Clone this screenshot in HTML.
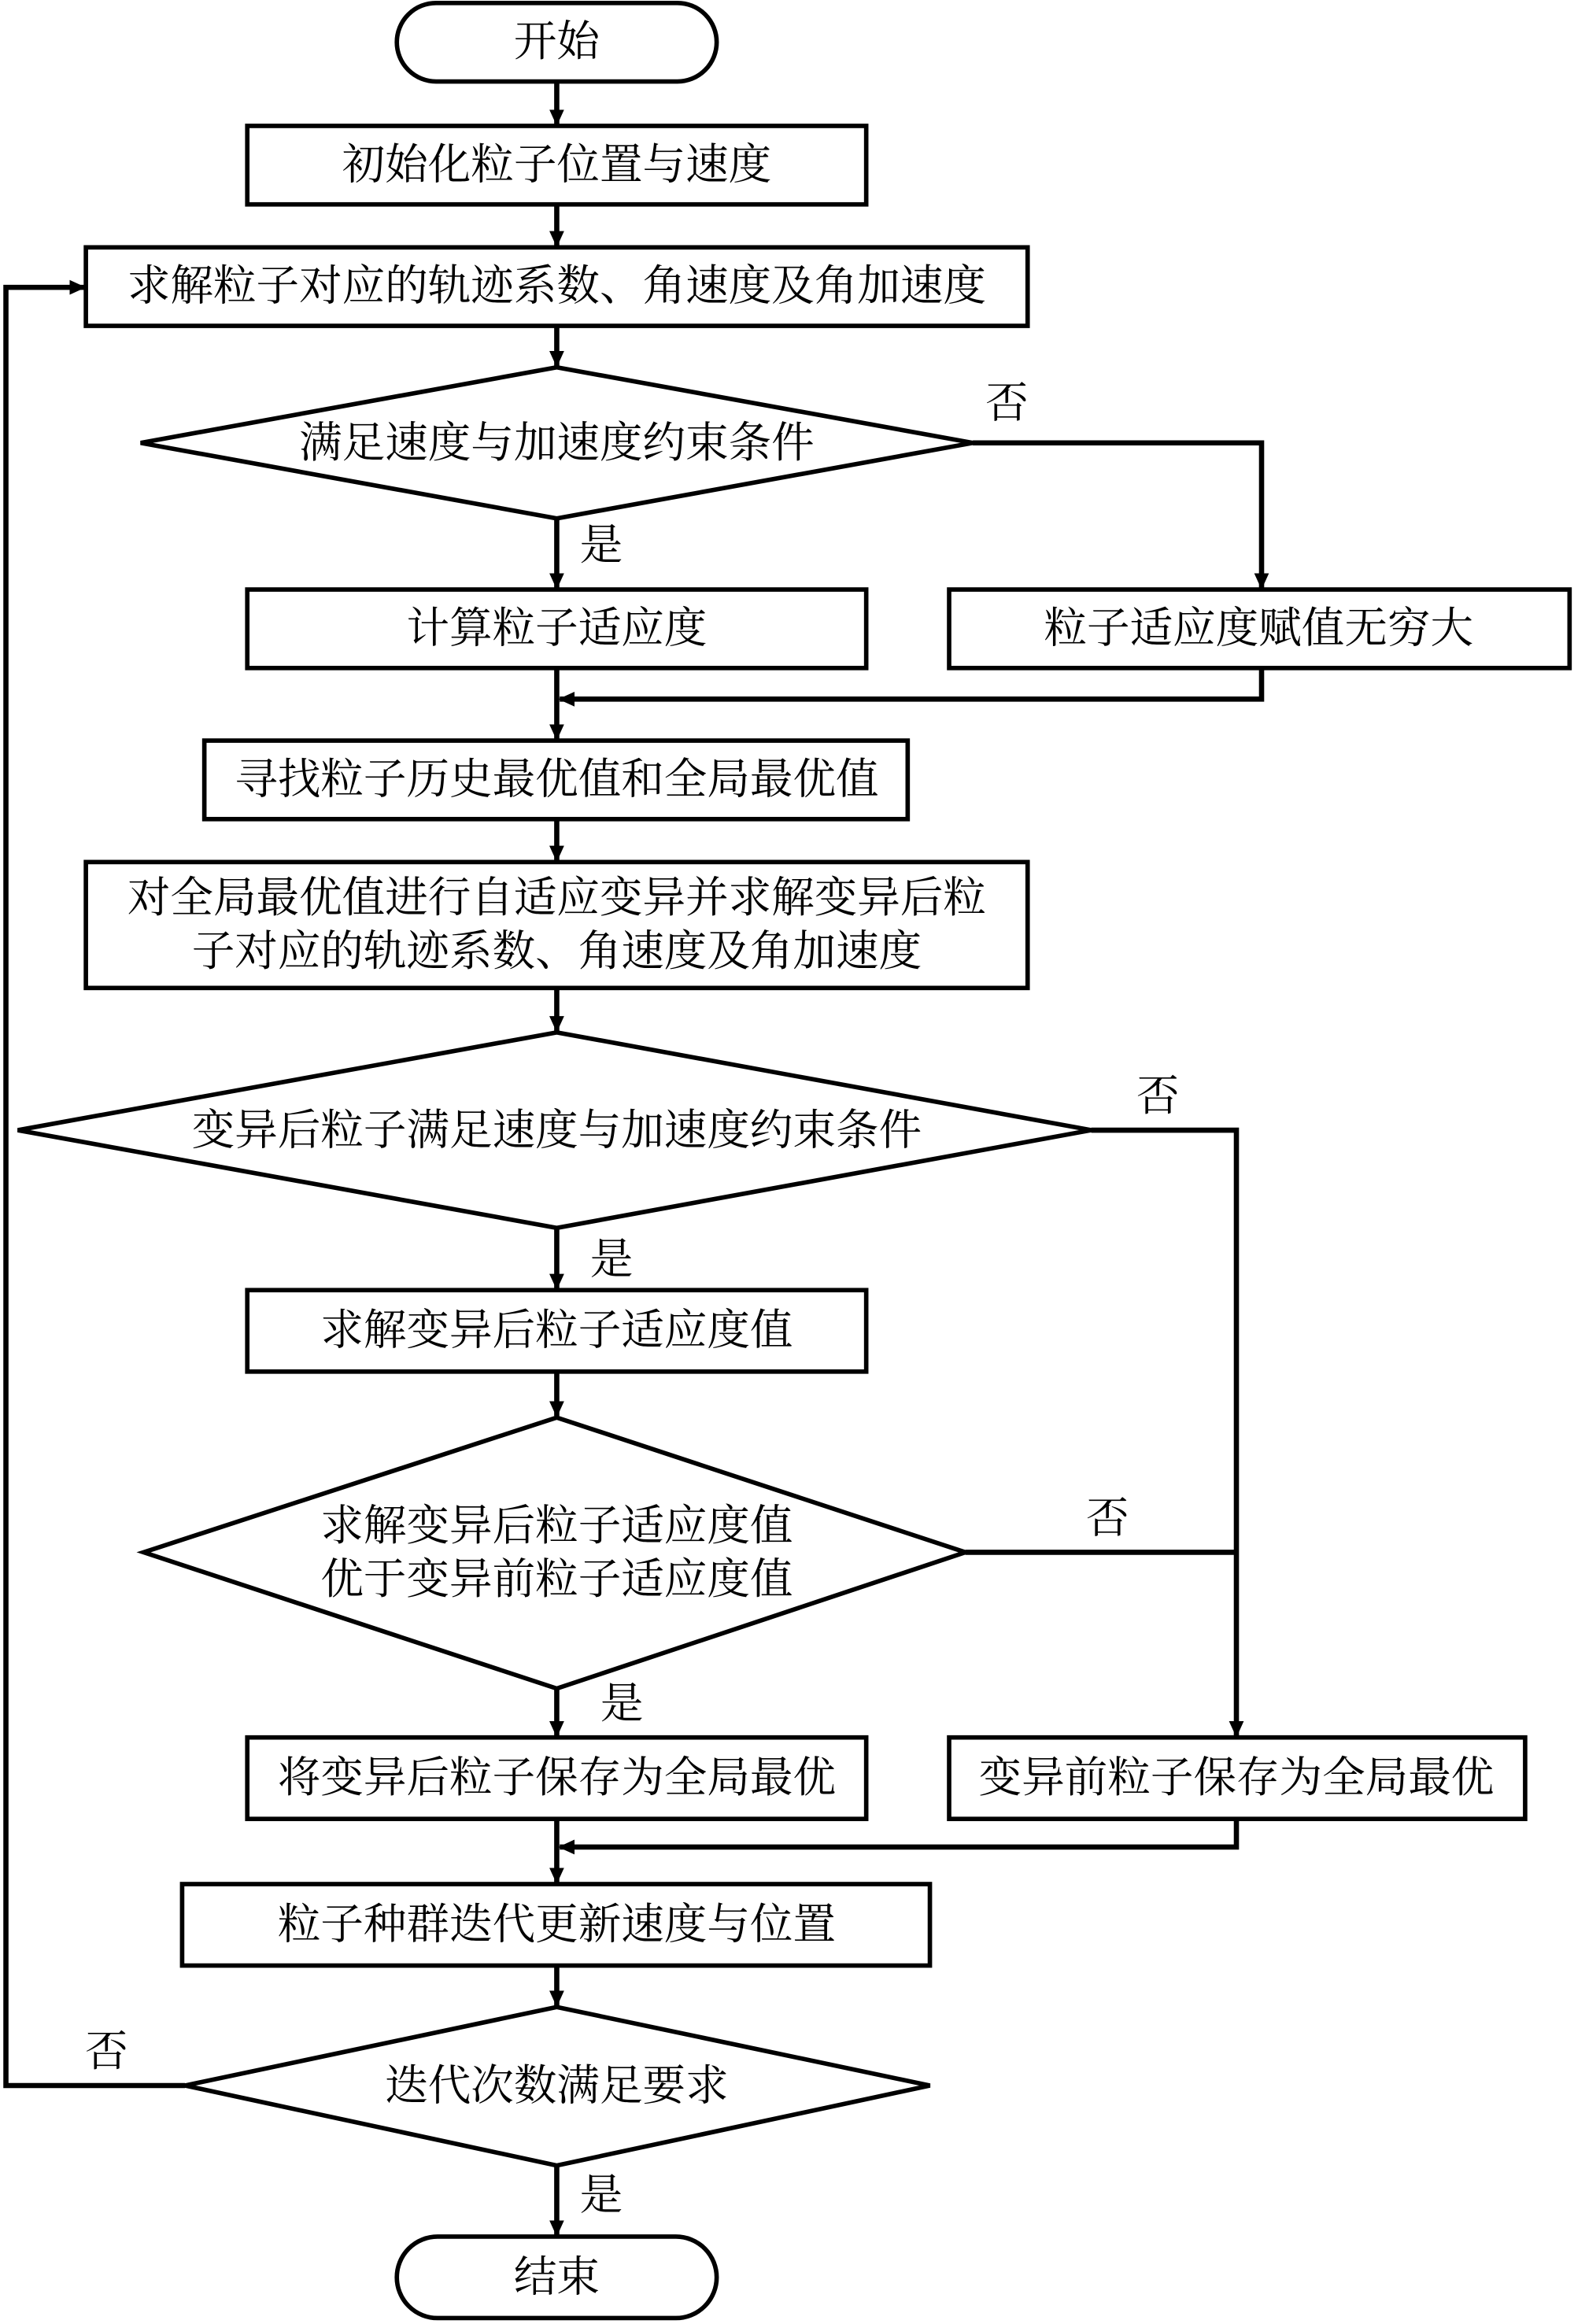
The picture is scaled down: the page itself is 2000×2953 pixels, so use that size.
<!DOCTYPE html>
<html><head><meta charset="utf-8"><style>
html,body{margin:0;padding:0;background:#fff;}
svg{display:block;}
text{font-family:"Liberation Serif","Noto Serif CJK SC","Noto Sans CJK SC",serif;font-size:29px;fill:#000;text-anchor:middle;dominant-baseline:central;}
.s{fill:#fff;stroke:#000;stroke-width:3;}
.l{fill:none;stroke:#000;stroke-width:3.5;}
</style></head><body>
<svg width="2000" height="2953" viewBox="0 0 1063 1569" preserveAspectRatio="none" xmlns="http://www.w3.org/2000/svg">
<defs><marker id="a" markerWidth="12" markerHeight="12" refX="10" refY="5" orient="auto" markerUnits="userSpaceOnUse"><path d="M0,0 L11,5 L0,10 z" fill="#000"/></marker></defs>
<!-- start -->
<rect class="s" x="268" y="2" width="216" height="53" rx="26.5"/><text x="376" y="28">开始</text>
<line class="l" x1="376" y1="55" x2="376" y2="84" marker-end="url(#a)"/>
<rect class="s" x="167" y="85" width="418" height="53"/><text x="376" y="111">初始化粒子位置与速度</text>
<line class="l" x1="376" y1="138" x2="376" y2="166" marker-end="url(#a)"/>
<rect class="s" x="58" y="167" width="636" height="53"/><text x="376" y="193">求解粒子对应的轨迹系数、角速度及角加速度</text>
<line class="l" x1="376" y1="220" x2="376" y2="247" marker-end="url(#a)"/>
<polygon class="s" points="95,299 376,248 657,299 376,350"/><text x="376" y="299">满足速度与加速度约束条件</text>
<text x="680" y="272">否</text>
<polyline class="l" points="657,299 852,299 852,397" marker-end="url(#a)"/>
<line class="l" x1="376" y1="350" x2="376" y2="397" marker-end="url(#a)"/>
<text x="406" y="368">是</text>
<rect class="s" x="167" y="398" width="418" height="53"/><text x="376" y="424">计算粒子适应度</text>
<rect class="s" x="641" y="398" width="419" height="53"/><text x="850" y="424">粒子适应度赋值无穷大</text>
<polyline class="l" points="852,451 852,472 378,472" marker-end="url(#a)"/>
<line class="l" x1="376" y1="451" x2="376" y2="499" marker-end="url(#a)"/>
<rect class="s" x="138" y="500" width="475" height="53"/><text x="376" y="526">寻找粒子历史最优值和全局最优值</text>
<line class="l" x1="376" y1="553" x2="376" y2="581" marker-end="url(#a)"/>
<rect class="s" x="58" y="582" width="636" height="85"/><text x="376" y="606">对全局最优值进行自适应变异并求解变异后粒</text><text x="376" y="642">子对应的轨迹系数、角速度及角加速度</text>
<line class="l" x1="376" y1="667" x2="376" y2="696" marker-end="url(#a)"/>
<polygon class="s" points="12,763 376,697 737,763 376,829"/><text x="376" y="763">变异后粒子满足速度与加速度约束条件</text>
<text x="782" y="740">否</text>
<polyline class="l" points="737,763 835,763 835,1172" marker-end="url(#a)"/>
<line class="l" x1="376" y1="829" x2="376" y2="870" marker-end="url(#a)"/>
<text x="413" y="850">是</text>
<rect class="s" x="167" y="871" width="418" height="55"/><text x="376" y="898">求解变异后粒子适应度值</text>
<line class="l" x1="376" y1="926" x2="376" y2="956" marker-end="url(#a)"/>
<polygon class="s" points="97,1048 376,957 652,1048 376,1140"/><text x="376" y="1030">求解变异后粒子适应度值</text><text x="376" y="1066">优于变异前粒子适应度值</text>
<text x="748" y="1025">否</text>
<line class="l" x1="652" y1="1048" x2="835" y2="1048"/>
<line class="l" x1="376" y1="1140" x2="376" y2="1172" marker-end="url(#a)"/>
<text x="420" y="1150">是</text>
<rect class="s" x="167" y="1173" width="418" height="55"/><text x="376" y="1200">将变异后粒子保存为全局最优</text>
<rect class="s" x="641" y="1173" width="389" height="55"/><text x="835" y="1200">变异前粒子保存为全局最优</text>
<polyline class="l" points="835,1228 835,1247 378,1247" marker-end="url(#a)"/>
<line class="l" x1="376" y1="1228" x2="376" y2="1271" marker-end="url(#a)"/>
<rect class="s" x="123" y="1272" width="505" height="55"/><text x="376" y="1299">粒子种群迭代更新速度与位置</text>
<line class="l" x1="376" y1="1327" x2="376" y2="1354" marker-end="url(#a)"/>
<polygon class="s" points="125,1408 376,1355 628,1408 376,1462"/><text x="376" y="1408">迭代次数满足要求</text>
<text x="72" y="1385">否</text>
<polyline class="l" points="125,1408 4,1408 4,194 57,194" marker-end="url(#a)"/>
<line class="l" x1="376" y1="1462" x2="376" y2="1509" marker-end="url(#a)"/>
<text x="406" y="1482">是</text>
<rect class="s" x="268" y="1510" width="216" height="55" rx="27.5"/><text x="376" y="1537">结束</text>
</svg>
</body></html>
